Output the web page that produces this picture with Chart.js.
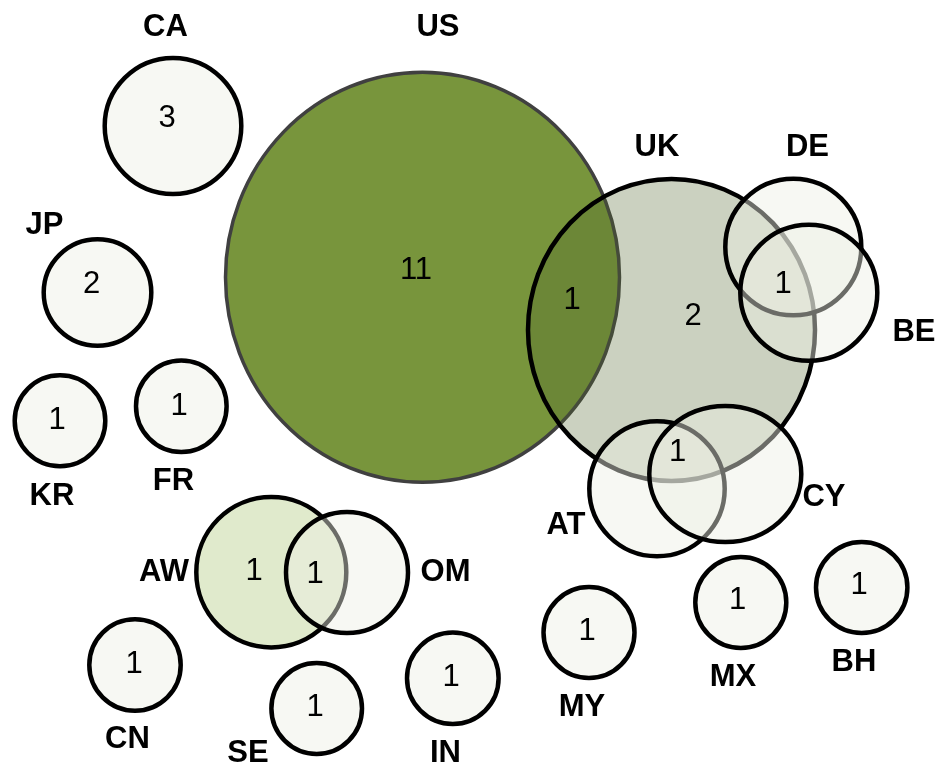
<!DOCTYPE html>
<html><head><meta charset="utf-8">
<script src="https://cdn.jsdelivr.net/npm/chart.js@4/dist/chart.umd.min.js"></script>
<style>html,body{margin:0;padding:0;background:#fff;overflow:hidden}canvas{display:block}</style>
</head><body>
<canvas id="c" width="942" height="767"></canvas>
<script>
// ---- data ----
const sets    = ['CA','JP','KR','FR','CN','SE','IN','MY','MX','BH','US','UK','DE','BE','AT','CY','AW','OM'];
const centerX = [173,97.5,60,181.3,135,316.7,452.8,589,740.8,861.7,422.5,671.5,793.3,808.8,657,725.3,271.3,347];
const centerY = [126,292.5,420.8,406.2,665,708.5,678.3,632.5,602.5,587.5,277.3,329.9,247,292.7,488.8,474,572.2,572.5];
const radiusX = [68.3,53.8,45.3,45.3,45.7,45.3,45.8,45.5,45.5,45.7,197,143.5,68,68.5,67.7,76,75,61];
const radiusY = [68,53.2,45.5,45.8,45.7,45.5,45.7,45.5,45.5,45.5,205,151,68.3,68,67.5,68,75.2,60.5];
const labelX  = [165.5,44.5,52,173.5,127.5,248,445.5,582,733,854,438,657,807.5,914,566,824,164,445.5];
const labelY  = [27,225,496,481,739,753,753,707,677,662,27,147,147,332,525.5,497,572,572];
const countText = ['3','2','1','1','11','1','2','1','1','1','1','1','1','1','1','1','1'];
const countX    = [167,91.7,57,179,416,572,693,783,677.5,254,315,134,315,451,587,737.5,859];
const countY    = [118,284,420,406.5,270.5,300.5,316,284,452,571.5,574,664,707.7,677.7,631.5,600.5,585.7];
const groups    = ['small','small','small','small','small','small','small','small','small','small','us','uk','small','small','small','small','aw','small'];

// ---- styles ----
const styleFill   = {small:'rgba(238,240,229,0.45)', us:'#78953c', uk:'rgba(82,102,45,0.3)', aw:'rgba(160,190,100,0.33)'};
const styleBorder = {small:'#000000', us:'#404040', uk:'#000000', aw:'#000000'};
const styleWidth  = {small:4.5, us:3.5, uk:4.5, aw:4.5};

class EllipseBubbleController extends Chart.BubbleController {
  getMaxOverflow() { return 0; }
  draw() {
    const meta = this._cachedMeta;
    const ctx = this.chart.ctx;
    const xs = meta.xScale, ys = meta.yScale;
    const raw = this.getDataset().data;
    meta.data.forEach((el, i) => {
      const d = raw[i], o = el.options;
      const rx = Math.abs(xs.getPixelForValue(d.x + d.rx) - el.x);
      const ry = Math.abs(ys.getPixelForValue(d.y + d.ry) - el.y);
      ctx.save();
      ctx.beginPath();
      ctx.ellipse(el.x, el.y, rx, ry, 0, 0, Math.PI * 2);
      ctx.fillStyle = o.backgroundColor; ctx.fill();
      ctx.lineWidth = o.borderWidth; ctx.strokeStyle = o.borderColor; ctx.stroke();
      ctx.restore();
    });
  }
}
EllipseBubbleController.id = 'ellipseBubble';
EllipseBubbleController.defaults = Chart.BubbleController.defaults;
EllipseBubbleController.overrides = Chart.BubbleController.overrides;
Chart.register(EllipseBubbleController);

const textPlugin = {
  id: 'vennText',
  afterDatasetsDraw(chart) {
    const {ctx} = chart; const x = chart.scales.x, y = chart.scales.y;
    ctx.save();
    ctx.textAlign = 'center'; ctx.textBaseline = 'middle'; ctx.fillStyle = '#000';
    ctx.font = 'bold 31px "Liberation Sans", Arial, sans-serif';
    sets.forEach((s, i) => ctx.fillText(s, x.getPixelForValue(labelX[i]), y.getPixelForValue(labelY[i])));
    ctx.font = '31px "Liberation Sans", Arial, sans-serif';
    countText.forEach((t, i) => ctx.fillText(t, x.getPixelForValue(countX[i]), y.getPixelForValue(countY[i])));
    ctx.restore();
  }
};

new Chart(document.getElementById('c'), {
  type: 'ellipseBubble',
  data: {
    datasets: [{
      label: 'countries',
      data: sets.map((s, i) => ({x: centerX[i], y: centerY[i], r: 1, rx: radiusX[i], ry: radiusY[i]})),
      backgroundColor: groups.map(g => styleFill[g]),
      borderColor: groups.map(g => styleBorder[g]),
      borderWidth: groups.map(g => styleWidth[g]),
      clip: false
    }]
  },
  options: {
    responsive: false, animation: false, devicePixelRatio: 1, events: [],
    layout: {padding: 0, autoPadding: false},
    plugins: {legend: {display: false}, tooltip: {enabled: false}},
    scales: {
      x: {type: 'linear', min: 0, max: 942, display: false},
      y: {type: 'linear', min: 0, max: 767, reverse: true, display: false}
    }
  },
  plugins: [textPlugin]
});
</script>
</body></html>
